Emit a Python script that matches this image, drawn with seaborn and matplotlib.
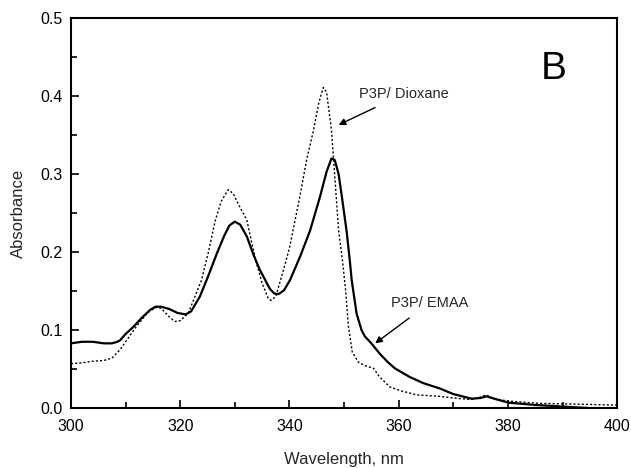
import matplotlib
matplotlib.use("Agg")
import matplotlib.pyplot as plt
import seaborn as sns
import pandas as pd
from matplotlib.ticker import MultipleLocator, FormatStrFormatter

# Espectro P3P/ EMAA (linha cheia)
wl_emaa = [300, 302, 304, 306, 307.5, 308.5, 309, 310, 311.4, 313, 314.5, 315.5,
           316.5, 318, 319.5, 321, 322, 323.6, 325, 326.7, 328, 329, 330, 331,
           332.2, 333.5, 334.6, 336.4, 337.2, 338, 339, 340.1, 342, 343.8, 345.6,
           346.8, 347.7, 348.3, 349, 349.6, 350.5, 351.1, 351.4, 352.3, 353.2,
           353.8, 355, 356.5, 358, 359.3, 362, 364.5, 367.6, 370, 373.4, 375,
           376.1, 378, 380.1, 385, 390, 395]
abs_emaa = [0.083, 0.085, 0.085, 0.083, 0.083, 0.085, 0.087, 0.095, 0.104, 0.116,
            0.126, 0.130, 0.130, 0.127, 0.122, 0.120, 0.124, 0.143, 0.167, 0.198,
            0.220, 0.234, 0.239, 0.235, 0.220, 0.195, 0.177, 0.153, 0.147, 0.146,
            0.151, 0.164, 0.195, 0.228, 0.271, 0.303, 0.320, 0.318, 0.300, 0.271,
            0.225, 0.186, 0.164, 0.121, 0.100, 0.092, 0.083, 0.070, 0.059, 0.051,
            0.040, 0.032, 0.025, 0.018, 0.012, 0.013, 0.015, 0.011, 0.007, 0.004,
            0.002, 0.000]

# Espectro P3P/ Dioxane (pontilhado)
wl_diox = [300, 302, 304, 306, 307.5, 309, 310.5, 312, 314, 315.5, 316.5, 318,
           319, 320, 321.5, 323.9, 325.1, 326.4, 327.5, 328.8, 329.7, 330.6,
           332.2, 333, 334, 335, 336.1, 336.6, 337.5, 338.9, 340, 341.9, 343.2,
           344.4, 345.4, 346.2, 346.8, 347.7, 349, 349.7, 350.3, 350.8, 351.5,
           352.6, 354, 355.4, 356.5, 358.4, 360.5, 363.3, 367.6, 370, 373.2, 375,
           376, 377.5, 380, 386, 393, 398.7, 400]
abs_diox = [0.057, 0.058, 0.060, 0.061, 0.064, 0.075, 0.090, 0.105, 0.122, 0.129,
            0.128, 0.117, 0.111, 0.112, 0.122, 0.164, 0.198, 0.240, 0.265, 0.280,
            0.275, 0.262, 0.241, 0.215, 0.185, 0.160, 0.141, 0.138, 0.143, 0.177,
            0.205, 0.271, 0.320, 0.356, 0.392, 0.411, 0.405, 0.356, 0.228, 0.190,
            0.150, 0.105, 0.072, 0.059, 0.054, 0.051, 0.040, 0.027, 0.022, 0.017,
            0.015, 0.013, 0.011, 0.014, 0.017, 0.012, 0.009, 0.006, 0.005, 0.004,
            0.004]

df_emaa = pd.DataFrame({"wl": wl_emaa, "A": abs_emaa})
df_diox = pd.DataFrame({"wl": wl_diox, "A": abs_diox})

sns.set_style("ticks")
plt.rcParams['font.family'] = ['Liberation Sans', 'DejaVu Sans']

fig = plt.figure(figsize=(6.31, 4.68), dpi=100)
ax = fig.add_axes([0.1125, 0.128, 0.8655, 0.8335])

sns.lineplot(data=df_diox, x="wl", y="A", ax=ax, color="black", lw=1.0,
             linestyle=(0, (1.5, 1.5)), sort=False)
sns.lineplot(data=df_emaa, x="wl", y="A", ax=ax, color="black", lw=1.6,
             sort=False)

ax.set_xlim(300, 400)
ax.set_ylim(0, 0.5)
ax.xaxis.set_major_locator(MultipleLocator(20))
ax.xaxis.set_minor_locator(MultipleLocator(10))
ax.yaxis.set_major_locator(MultipleLocator(0.1))
ax.yaxis.set_minor_locator(MultipleLocator(0.05))
ax.yaxis.set_major_formatter(FormatStrFormatter('%.1f'))
ax.tick_params(which='both', direction='in', labelsize=11.5, width=1.2,
               colors='black')
ax.tick_params(which='major', length=6)
ax.tick_params(which='minor', length=4)
ax.tick_params(axis='x', pad=8)
ax.tick_params(axis='y', pad=6)
for s in ax.spines.values():
    s.set_linewidth(1.5)
    s.set_color('black')

ax.set_xlabel("Wavelength, nm", fontsize=12, labelpad=13)
ax.set_ylabel("Absorbance", fontsize=12, labelpad=10)

# Anotações
ax.annotate("P3P/ Dioxane", xy=(349.0, 0.363), xytext=(352.8, 0.403),
            fontsize=10.5, va='center', ha='left',
            arrowprops=dict(arrowstyle='-|>', color='black', lw=1,
                            shrinkA=6, shrinkB=0, mutation_scale=10))
ax.annotate("P3P/ EMAA", xy=(355.7, 0.083), xytext=(358.6, 0.135),
            fontsize=10.5, va='center', ha='left',
            arrowprops=dict(arrowstyle='-|>', color='black', lw=1,
                            shrinkA=6, shrinkB=0, mutation_scale=10))
ax.text(388.4, 0.435, "B", fontsize=28, ha='center', va='center',
        color='black')

plt.savefig("out.png", dpi=100)
